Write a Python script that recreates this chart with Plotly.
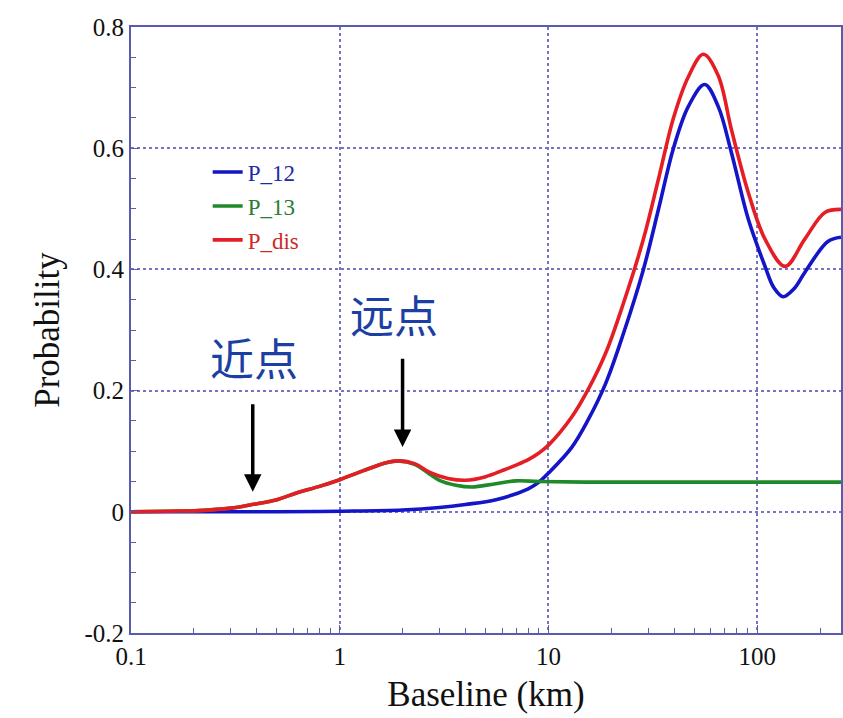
import numpy as np
import plotly.graph_objects as go

# Baseline (km) sample points and read-off probabilities
L12 = [0.1, 0.5, 1, 2, 3, 4, 5.6, 8, 9, 10, 12.9, 15.5, 18.8, 22.9, 28.5, 33.7, 39.7, 46.8,
       56, 65, 75.2, 90.6, 109, 120, 133, 150, 169, 218, 252]
P12 = [0, 0, 0.001, 0.003, 0.007, 0.012, 0.02, 0.038, 0.049, 0.064, 0.106, 0.152, 0.212, 0.295,
       0.40, 0.50, 0.60, 0.669, 0.705, 0.669, 0.593, 0.483, 0.405, 0.37, 0.355, 0.368, 0.395,
       0.446, 0.453]

L13 = [0.1, 0.15, 0.21, 0.3, 0.38, 0.5, 0.62, 0.8, 1, 1.3, 1.67, 1.9, 2.3, 2.7, 3.0, 3.6,
       4.3, 5.5, 7, 9, 15, 40, 100, 252]
P13 = [0, 0.001, 0.002, 0.006, 0.012, 0.02, 0.031, 0.042, 0.053, 0.068, 0.081, 0.084, 0.078,
       0.062, 0.052, 0.044, 0.041, 0.046, 0.051, 0.05, 0.049, 0.049, 0.049, 0.049]

Ldis = [0.1, 0.15, 0.21, 0.3, 0.38, 0.5, 0.62, 0.8, 1, 1.3, 1.67, 1.9, 2.3, 2.7, 3.3, 4.0,
        5.0, 6.0, 7.0, 8.0, 9.0, 10, 12.9, 15.5, 18.8, 22.9, 28.5, 33.7, 39.7, 46.8, 55.2, 65,
        75.2, 90.6, 109, 136, 169, 211, 252]
Pdis = [0, 0.001, 0.002, 0.006, 0.012, 0.02, 0.031, 0.042, 0.053, 0.068, 0.081, 0.084, 0.079,
        0.065, 0.055, 0.052, 0.058, 0.068, 0.077, 0.086, 0.097, 0.11, 0.156, 0.202, 0.262, 0.345,
        0.45, 0.55, 0.65, 0.718, 0.755, 0.72, 0.631, 0.527, 0.45, 0.405, 0.45, 0.494, 0.499]

series_names = ["P_12", "P_13", "P_dis"]
series_colors = ["#1414c8", "#1f8a2a", "#e41e24"]
legend_text_colors = ["#1c2aa8", "#2a7a30", "#d02828"]

y_tickvals = [-0.2, 0, 0.2, 0.4, 0.6, 0.8]
y_ticktext = ["-0.2", "0", "0.2", "0.4", "0.6", "0.8"]
x_tickvals = [0.1, 1, 10, 100]
x_ticktext = ["0.1", "1", "10", "100"]

# annotation labels: (text, baseline km, y)
labels = [("近点", 0.39, 0.256), ("远点", 1.82, 0.326)]
arrows = [(0.383, 0.18, 0.033), (2.0, 0.255, 0.107)]

fig = go.Figure()
for i, (xs, ys) in enumerate([(L12, P12), (L13, P13), (Ldis, Pdis)]):
    fig.add_trace(go.Scatter(
        x=xs, y=ys, mode="lines",
        line=dict(color=series_colors[i], width=3.6, shape="spline", smoothing=1.0),
        name=f"<span style='color:{legend_text_colors[i]}'>{series_names[i]}</span>",
        legendgroup=f"g{i}",
    ))

axcol = "#5a5aae"
gridcol = "#7474c4"
fig.update_layout(
    width=843, height=718,
    margin=dict(l=131, r=0, t=27, b=85),
    paper_bgcolor="white", plot_bgcolor="white",
    font=dict(family="Liberation Serif", size=25, color="#111111"),
    showlegend=True,
    legend=dict(x=0.108, y=0.796, xanchor="left", yanchor="top",
                bgcolor="rgba(0,0,0,0)", font=dict(family="Liberation Serif", size=23),
                tracegroupgap=1, traceorder="grouped"),
    xaxis=dict(type="log", range=[-1, np.log10(252)],
               tickvals=x_tickvals, ticktext=x_ticktext,
               showline=True, linecolor=axcol, linewidth=2, mirror=True,
               showgrid=True, gridcolor=gridcol, griddash="dot", gridwidth=1.5,
               ticks="inside", ticklen=8, tickcolor=axcol,
               minor=dict(ticks="inside", ticklen=5, tickcolor=axcol, dtick="D1", showgrid=False),
               zeroline=False,
               title=dict(text="Baseline (km)", font=dict(size=35, family="Liberation Serif"), standoff=12),
               tickfont=dict(size=25)),
    yaxis=dict(range=[-0.2, 0.8], tickvals=y_tickvals, ticktext=y_ticktext,
               showline=True, linecolor=axcol, linewidth=2, mirror=True,
               showgrid=True, gridcolor=gridcol, griddash="dot", gridwidth=1.5,
               ticks="inside", ticklen=8, tickcolor=axcol,
               minor=dict(ticks="inside", ticklen=5, tickcolor=axcol, dtick=0.05, showgrid=False),
               zeroline=False,
               title=dict(text="Probability", font=dict(size=35, family="Liberation Serif"), standoff=14),
               tickfont=dict(size=25)),
)

for txt, xk, yv in labels:
    fig.add_annotation(x=np.log10(xk), y=yv, xref="x", yref="y", text=txt, showarrow=False,
                       font=dict(family="Noto Sans CJK SC", size=44, color="#1b3fa3"))

for xk, ytail, ytip in arrows:
    fig.add_annotation(x=np.log10(xk), y=ytip, ax=np.log10(xk), ay=ytail,
                       xref="x", yref="y", axref="x", ayref="y", text="",
                       showarrow=True, arrowhead=2, arrowsize=1.0, arrowwidth=3.5,
                       arrowcolor="black", standoff=0)

fig.write_html("out.html")
